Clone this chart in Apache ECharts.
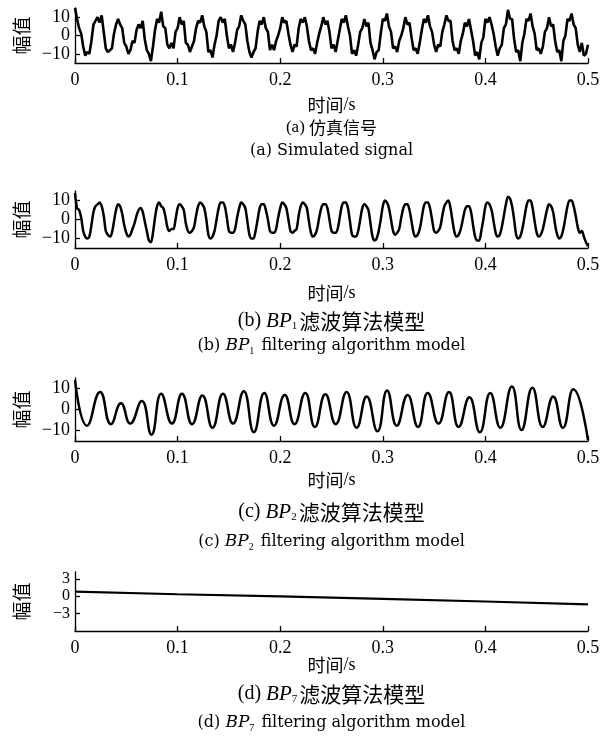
<!DOCTYPE html>
<html>
<head>
<meta charset="utf-8">
<script src="https://cdn.jsdelivr.net/npm/echarts@6/dist/echarts.min.js"></script>
<style>
html,body{margin:0;padding:0;background:#fff;}
#chart{width:603px;height:740px;}
</style>
</head>
<body>
<div id="chart"></div>
<script>
// ---- data ----
const sampleStep = 0.002;
const timeTicks = [0, 0.1, 0.2, 0.3, 0.4, 0.5];
const ampTicks = [-10, 0, 10];
const smallAmpTicks = [-3, 0, 3];

const simulatedSignal = [
15, 9, 4, 1, -6, -11, -9, -10, -3, 6,
8, 10, 7, 11, 2, -7, -9, -8, -7, 1,
6, 9, 6, 4, -4, -6, -10, -8, -3, -4,
3, 6, 4, 8, -2, -8, -10, -14, -6, 3,
9, 7, 13, 5, 4, -5, -7, -4, -7, 2,
4, 10, 6, 8, -4, -5, -9, -6, -3, 4,
8, 7, 11, 5, 2, -9, -8, -12, -5, 0,
8, 10, 7, 9, 0, -7, -5, -9, -4, 3,
5, 11, 8, 6, -3, -9, -12, -9, -7, 2,
8, 6, 10, 4, 2, -8, -5, -8, -3, 0,
4, 10, 7, 8, 1, -5, -9, -5, -6, 4,
9, 7, 10, 5, -3, -8, -7, -10, -4, 1,
5, 10, 6, 8, 2, -7, -5, -9, -3, 3,
9, 7, 11, 5, 0, -10, -8, -11, -5, 2,
4, 9, 5, 7, -4, -8, -13, -9, -8, 1,
9, 8, 12, 5, 2, -7, -6, -9, -3, 0,
4, 10, 6, 7, -1, -8, -7, -10, -4, 3,
9, 7, 11, 5, 2, -5, -9, -5, -6, 2,
6, 11, 8, 8, -3, -8, -7, -10, -3, 1,
7, 5, 9, 3, -3, -11, -9, -13, -4, -1,
9, 7, 10, 6, 1, -6, -11, -7, -5, 4,
6, 14, 9, 9, -2, -9, -8, -14, -4, 1,
9, 8, 12, 5, 1, -8, -7, -10, -6, 2,
4, 10, 5, 6, -3, -9, -8, -14, -3, 0,
9, 8, 12, 6, 4, -5, -9, -4, -11, -10,
-5
];

const bp1Output = [
14, 6, 5, 1, -6, -9, -10, -9, -3, 4,
7, 8, 9, 7, 2, -6, -8, -9, -7, -1,
5, 8, 7, 3, -3, -7, -9, -8, -5, -2,
2, 5, 6, 4, -1, -6, -11, -12, -7, 1,
7, 9, 7, 6, 2, -4, -6, -5, -5, 0,
6, 8, 7, 5, -2, -6, -7, -6, -4, 2,
7, 9, 8, 6, 0, -8, -10, -9, -6, 0,
6, 9, 9, 7, 1, -6, -7, -7, -5, 1,
6, 9, 8, 6, -1, -8, -10, -10, -6, 0,
6, 8, 8, 5, 0, -6, -7, -7, -5, 1,
6, 9, 8, 6, 0, -6, -7, -6, -5, 2,
7, 9, 8, 6, -1, -7, -9, -8, -5, 1,
6, 8, 8, 6, 0, -6, -7, -7, -5, 1,
7, 9, 9, 6, -1, -8, -9, -9, -6, 0,
6, 8, 7, 5, -2, -9, -11, -10, -6, 0,
7, 10, 9, 6, 0, -6, -8, -7, -5, 1,
6, 8, 8, 5, -1, -7, -9, -8, -5, 1,
7, 9, 9, 6, 0, -6, -7, -6, -4, 2,
7, 9, 10, 6, -1, -7, -9, -8, -5, 0,
5, 7, 7, 4, -3, -9, -11, -11, -6, 0,
7, 9, 8, 5, -1, -7, -9, -8, -4, 2,
8, 12, 11, 7, 0, -8, -10, -9, -5, 1,
7, 10, 10, 6, -1, -7, -9, -8, -5, 0,
5, 8, 7, 4, -3, -8, -10, -9, -5, 1,
7, 10, 10, 7, 2, -4, -7, -6, -9, -12,
-14
];

const bp2Times = [0, 0.0117, 0.0245, 0.035, 0.0448, 0.0538, 0.0651, 0.0745, 0.084, 0.0945, 0.1043, 0.1141, 0.1242, 0.134, 0.1442, 0.154, 0.1645, 0.1743, 0.1845, 0.1939, 0.2044, 0.2139, 0.2244, 0.2338, 0.244, 0.2541, 0.2647, 0.2745, 0.2843, 0.2948, 0.3042, 0.3136, 0.3242, 0.3343, 0.3438, 0.3543, 0.3645, 0.3739, 0.3844, 0.3946, 0.4047, 0.4145, 0.4258, 0.4352, 0.4458, 0.4559, 0.4661, 0.4755, 0.4857, 0.5];
const bp2Values = [14, -7.7, 8.3, -7, 3, -6.7, 4, -12, 7.5, -6.7, 7.5, -7, 6.7, -8.7, 7.5, -6.7, 8.7, -10.8, 7.9, -7.7, 6.9, -7, 7.9, -8.3, 7.3, -7, 8.3, -8.7, 6.2, -10.4, 9, -7.7, 6.9, -8.3, 7.9, -6.7, 8.3, -8.3, 5.8, -10.8, 7.9, -8.7, 11, -9.8, 10.4, -8.3, 6.2, -8.7, 9.6, -14.6];

const bp7Times = [0, 0.1, 0.2, 0.3, 0.4, 0.5];
const bp7Values = [0.8, 0.35, 0.0, -0.45, -0.9, -1.4];

const xAxisTitle = '时间/s';
const yAxisTitle = '幅值';

// ---- build ----
function uniform(values, step) {
  return values.map((v, i) => [+(i * step).toFixed(4), v]);
}
function pairs(ts, vs) { return ts.map((t, i) => [t, vs[i]]); }

const L = 75, W = 513;
const panels = [
  { top: 8, height: 55, ymin: -15, ymax: 15, step: 5, ticks: ampTicks, fs: 18, data: uniform(simulatedSignal, sampleStep), smooth: false, lw: 2.6 },
  { top: 191, height: 57, ymin: -15, ymax: 15, step: 5, ticks: ampTicks, fs: 18, data: uniform(bp1Output, sampleStep), smooth: 0.3, lw: 2.5 },
  { top: 378, height: 63, ymin: -15, ymax: 15, step: 5, ticks: ampTicks, fs: 18, data: pairs(bp2Times, bp2Values), smooth: 0.5, lw: 2.5 },
  { top: 572, height: 59, ymin: -6, ymax: 4.2, step: 1, ticks: smallAmpTicks, fs: 16, data: pairs(bp7Times, bp7Values), smooth: false, lw: 2.2 }
];

const serif = '"Liberation Serif", "DejaVu Serif", serif';
const enSerif = '"DejaVu Serif", serif';
const cjk = '"Noto Sans CJK SC", sans-serif';
const minus = v => (v < 0 ? '\u2212' + Math.abs(v) : String(v));

const option = {
  animation: false,
  backgroundColor: '#fff',
  grid: panels.map(p => ({ left: L, width: W, top: p.top, height: p.height })),
  xAxis: panels.map((p, i) => ({
    type: 'value', gridIndex: i, min: 0, max: 0.5, interval: 0.1,
    axisLine: { show: true, onZero: false, lineStyle: { color: '#000', width: 1.3 } },
    axisTick: { show: true, inside: true, length: 5, lineStyle: { color: '#000', width: 1.3 } },
    axisLabel: { color: '#000', fontFamily: serif, fontSize: 18, margin: 8, hideOverlap: false,
      formatter: v => String(+v.toFixed(1)) },
    splitLine: { show: false }
  })),
  yAxis: panels.map((p, i) => ({
    type: 'value', gridIndex: i, min: p.ymin, max: p.ymax, interval: p.step,
    name: yAxisTitle, nameLocation: 'middle', nameRotate: 90, nameGap: 44,
    nameTextStyle: { color: '#000', fontFamily: cjk, fontSize: 19 },
    axisLine: { show: true, onZero: false, lineStyle: { color: '#000', width: 1.3 } },
    axisTick: { show: true, inside: true, length: 5, customValues: p.ticks, lineStyle: { color: '#000', width: 1.3 } },
    axisLabel: { color: '#000', fontFamily: serif, fontSize: p.fs, margin: 5, lineHeight: p.fs - 4, hideOverlap: false,
      customValues: p.ticks, formatter: minus },
    splitLine: { show: false }
  })),
  series: panels.map((p, i) => ({
    type: 'line', xAxisIndex: i, yAxisIndex: i, data: p.data,
    showSymbol: false, smooth: p.smooth,
    lineStyle: { color: '#000', width: p.lw }
  })),
  graphic: []
};

const cx = L + W / 2;
const titleYs = [105, 293, 480, 665];
const cap1Ys = [128, 321, 512, 694];
const cap2Ys = [151, 346, 542, 723];
const letters = ['a', 'b', 'c', 'd'];
const subs = ['', '1', '2', '7'];
const rich = {
  n: { fontFamily: serif, fontSize: 18, fill: '#000' },
  c: { fontFamily: cjk, fontSize: 18, fill: '#000' },
  na: { fontFamily: serif, fontSize: 17, fill: '#000' },
  ca: { fontFamily: cjk, fontSize: 17, fill: '#000' },
  nb: { fontFamily: serif, fontSize: 20, fill: '#000' },
  cb: { fontFamily: cjk, fontSize: 21, fill: '#000' },
  i: { fontFamily: serif, fontSize: 21, fontStyle: 'italic', fill: '#000' },
  s: { fontFamily: serif, fontSize: 11, fill: '#000', padding: [11, 2, 0, 0] },
  es: { fontFamily: serif, fontSize: 10, fill: '#000', padding: [10, 2, 0, 0] },
  e: { fontFamily: enSerif, fontSize: 16, fill: '#000' },
  ei: { fontFamily: enSerif, fontSize: 17, fontStyle: 'italic', fill: '#000' }
};
for (let k = 0; k < 4; k++) {
  option.graphic.push({ type: 'text', silent: true,
    style: { text: '{c|时间}{n|/s}', rich, x: cx, y: titleYs[k], align: 'center', verticalAlign: 'middle' } });
  const t1 = k === 0 ? '{na|(a) }{ca|仿真信号}'
    : '{nb|(' + letters[k] + ') }{i|BP}{s|' + subs[k] + '}{cb|滤波算法模型}';
  const t2 = k === 0 ? '{e|(a) Simulated signal}'
    : '{e|(' + letters[k] + ') }{ei|BP}{es|' + subs[k] + '}{e| filtering algorithm model}';
  option.graphic.push({ type: 'text', silent: true, style: { text: t1, rich, x: cx, y: cap1Ys[k], align: 'center', verticalAlign: 'middle' } });
  option.graphic.push({ type: 'text', silent: true, style: { text: t2, rich, x: cx, y: cap2Ys[k], align: 'center', verticalAlign: 'middle' } });
}

const chart = echarts.init(document.getElementById('chart'), null, { renderer: 'canvas' });
chart.setOption(option);
</script>
</body>
</html>
